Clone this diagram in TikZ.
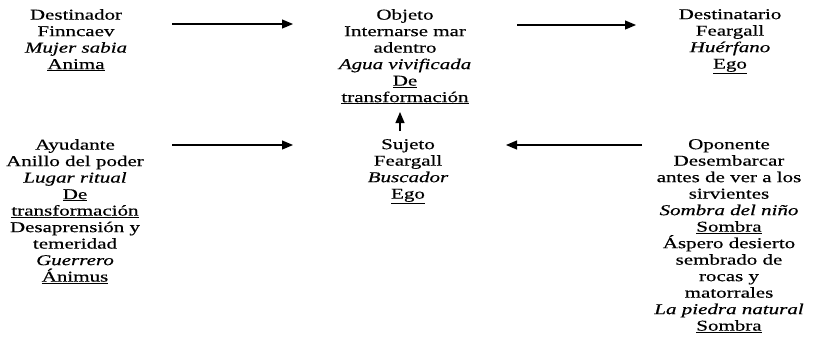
\documentclass[tikz,border=0pt]{standalone}
\usepackage{fontspec}
\setmainfont{Liberation Serif}[FakeStretch=1.4,FakeBold=0.5]
\usetikzlibrary{arrows.meta}
\begin{document}
\begin{tikzpicture}[x=1pt,y=-1pt,
  lbl/.style={align=center, inner sep=0pt, anchor=north, font=\fontsize{15}{16.5}\selectfont},
  arr/.style={line width=1.2pt, -{Triangle[length=11pt,width=9pt]}}]
\useasboundingbox (0,0) rectangle (817,341);
\node[lbl] (dest) at (76,9) {Destinador\\Finncaev\\\textit{Mujer sabia}\\\underline{Anima}};
\node[lbl] (obj) at (405,9) {Objeto\\Internarse mar\\adentro\\\textit{Agua vivificada}\\\underline{De}\\\underline{transformación}};
\node[lbl] (dta) at (730,9) {Destinatario\\Feargall\\\textit{Huérfano}\\\underline{Ego}};
\node[lbl] (ayu) at (75,139) {Ayudante\\Anillo del poder\\\textit{Lugar ritual}\\\underline{De}\\\underline{transformación}\\Desaprensión y\\temeridad\\\textit{Guerrero}\\\underline{Ánimus}};
\node[lbl] (suj) at (408,139) {Sujeto\\Feargall\\\textit{Buscador}\\\underline{Ego}};
\node[lbl] (opo) at (729,139) {Oponente\\Desembarcar\\antes de ver a los\\sirvientes\\\textit{Sombra del niño}\\\underline{Sombra}\\Áspero desierto\\sembrado de\\rocas y\\matorrales\\\textit{La piedra natural}\\\underline{Sombra}};
\coordinate (a1s) at (172,24);
\coordinate (a1e) at (293,24);
\coordinate (a2s) at (517,25);
\coordinate (a2e) at (636,25);
\coordinate (a3s) at (172,145);
\coordinate (a3e) at (293,145);
\coordinate (a4s) at (642,145);
\coordinate (a4e) at (506,145);
\coordinate (a5s) at (400,131);
\coordinate (a5e) at (400,112);
\draw[arr] (a1s) -- (a1e);
\draw[arr] (a2s) -- (a2e);
\draw[arr] (a3s) -- (a3e);
\draw[arr] (a4s) -- (a4e);
\draw[arr] (a5s) -- (a5e);
\end{tikzpicture}
\end{document}
